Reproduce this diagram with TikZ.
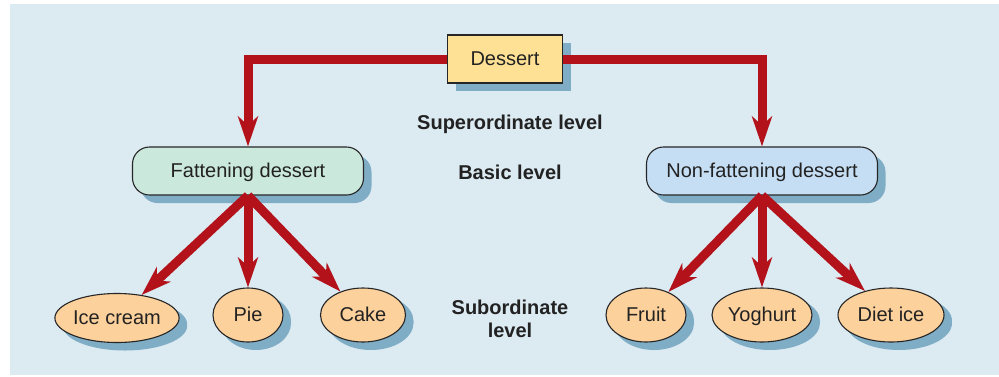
\documentclass[tikz,border=0pt]{standalone}
\usepackage{fontspec}
\setmainfont{Liberation Sans}
\usetikzlibrary{arrows.meta,shadows,shapes.geometric}
\definecolor{bg}{HTML}{DCEAF2}
\definecolor{arr}{HTML}{B3121B}
\definecolor{shad}{HTML}{7FADC6}
\definecolor{yel}{HTML}{FFE196}
\definecolor{grn}{HTML}{CBE8DD}
\definecolor{blu}{HTML}{C6DEF3}
\definecolor{org}{HTML}{FDD19C}
\definecolor{txt}{HTML}{222222}
\begin{document}
\begin{tikzpicture}[x=1pt,y=-1pt,
  base/.style={draw=black!85, line width=1.1pt, text=txt,
    font=\fontsize{20}{23}\selectfont, inner sep=0pt, text height=14pt, text depth=1pt,
    drop shadow={shadow xshift=8pt, shadow yshift=-8pt, fill=shad, opacity=1}},
  topbox/.style={base, rectangle, fill=yel, minimum width=115pt, minimum height=48pt},
  midbox/.style={base, rectangle, rounded corners=17pt, minimum width=231pt, minimum height=48pt},
  leaf/.style={base, ellipse, fill=org, minimum height=54pt,
    drop shadow={shadow xshift=8pt, shadow yshift=-6pt, fill=shad, opacity=1}},
  lvl/.style={font=\bfseries\fontsize{20}{23}\selectfont, text=txt, align=center},
  conn/.style={draw=arr, line width=9pt, -{Stealth[length=30pt,width=20pt,inset=9pt]}}
]
\useasboundingbox (0,0) rectangle (999,376);
\fill[bg] (10,4) rectangle (999,375);

\node[topbox] (d) at (505,59) {Dessert};
\node[midbox, fill=grn] (f) at (248,171) {Fattening dessert};
\node[midbox, fill=blu] (n) at (762,171) {Non-fattening dessert};

\node[leaf, minimum width=122pt, minimum height=49pt] (ic) at (117,318) {Ice cream};
\node[leaf, minimum width=70pt] (pie) at (248,315) {Pie};
\node[leaf, minimum width=85pt] (cake) at (363,315) {Cake};
\node[leaf, minimum width=80pt] (fruit) at (646,315) {Fruit};
\node[leaf, minimum width=100pt] (yog) at (762,315) {Yoghurt};
\node[leaf, minimum width=106pt] (diet) at (891,315) {Diet ice};

\node[lvl] (sup) at (510,124) {Superordinate level};
\node[lvl] (bas) at (510,172) {Basic level};
\node[lvl] (sub) at (510,319) {Subordinate\\level};

\draw[conn] (d.west) -| (f.north);
\draw[conn] (d.east) -| (n.north);

\draw[conn] (f.south) -- (ic);
\draw[conn] (f.south) -- (pie);
\draw[conn] (f.south) -- (cake);
\draw[conn] (n.south) -- (fruit);
\draw[conn] (n.south) -- (yog);
\draw[conn] (n.south) -- (diet);
\end{tikzpicture}
\end{document}
